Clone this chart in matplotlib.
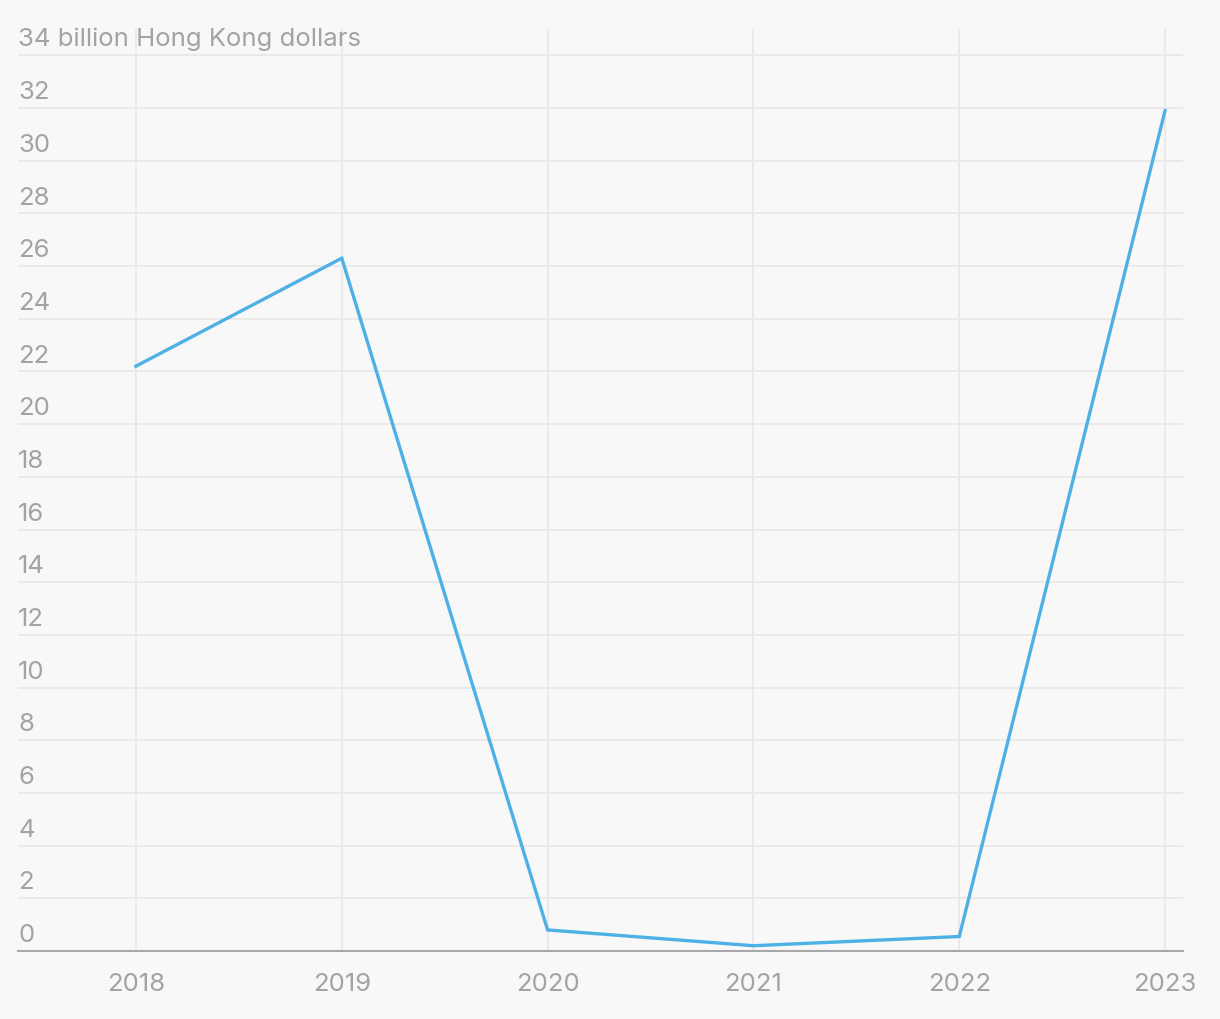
import matplotlib
matplotlib.use("Agg")
import matplotlib.pyplot as plt
from matplotlib.transforms import blended_transform_factory, offset_copy

plt.rcParams['font.family'] = ['Inter', 'DejaVu Sans']

years = [2018, 2019, 2020, 2021, 2022, 2023]
values = [22.2, 26.3, 0.8, 0.2, 0.55, 31.9]
ytick_vals = list(range(0, 36, 2))[:18]
ytick_labels = [str(v) for v in ytick_vals[:-1]] + ["34 billion Hong Kong dollars"]

bg = "#f8f8f8"
grid_c = "#e9e9e9"
text_c = "#a3a3a3"
line_c = "#4eb1e6"

fig = plt.figure(figsize=(12.2, 10.2), dpi=100, facecolor=bg)
ax = fig.add_axes([18/1220, 68/1020, (1183-18)/1220, (952-30)/1020])
ax.set_facecolor(bg)

ax.set_xlim(2017.427, 2023.087)
ax.set_ylim(0, 35)

for v in ytick_vals[1:]:
    ax.axhline(v, color=grid_c, lw=1.3, zorder=0)
for yr in years:
    ax.axvline(yr, color=grid_c, lw=1.3, zorder=0)

ax.plot(years, values, color=line_c, lw=2.4, solid_joinstyle='miter', zorder=3)

for s in ['top', 'right', 'left']:
    ax.spines[s].set_visible(False)
ax.spines['bottom'].set_color("#a8a8a8")
ax.spines['bottom'].set_linewidth(1.5)

ax.set_yticks([])
ax.set_xticks(years)
ax.set_xticklabels([str(y) for y in years])
ax.tick_params(axis='x', length=0, pad=15, labelsize=18.5, labelcolor=text_c)

trans = blended_transform_factory(ax.transAxes, ax.transData)
trans = offset_copy(trans, fig=fig, x=0, y=3.5, units='points')
for v, lab in zip(ytick_vals, ytick_labels):
    ax.text(0, v, lab, transform=trans, ha='left', va='bottom',
            fontsize=18.5, color=text_c)

fig.savefig("out.png", dpi=100, facecolor=bg)
